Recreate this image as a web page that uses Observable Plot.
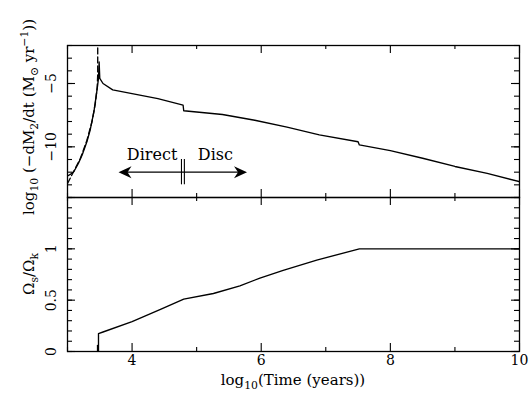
<!DOCTYPE html>
<html><head><meta charset="utf-8">
<script src="https://cdn.jsdelivr.net/npm/d3@7"></script>
<script src="https://cdn.jsdelivr.net/npm/@observablehq/plot@0.6"></script>
<style>
body{margin:0;background:#fff;}
#chart{position:relative;width:532px;height:414px;overflow:hidden;background:#fff;}
#chart svg{position:absolute;left:0;overflow:visible;}
</style></head><body><div id="chart"></div>
<script>
// ---- data ----
// top panel: log10(-dM2/dt) vs log10(time)
const timeSolid = [3.00, 3.05, 3.10, 3.17, 3.23, 3.30, 3.35, 3.41, 3.46, 3.48, 3.49, 3.50, 3.55, 3.70, 4.00, 4.40, 4.79, 4.80, 5.00, 5.40, 5.90, 6.40, 6.90, 7.50, 7.52, 8.00, 8.50, 9.00, 9.50, 10.00];
const mdotSolid = [-12.3, -12.15, -11.95, -11.3, -10.6, -9.6, -8.7, -7.2, -5.4, -4.6, -3.3, -4.6, -5.0, -5.5, -5.8, -6.2, -6.7, -7.15, -7.25, -7.45, -7.9, -8.45, -9.05, -9.6, -9.85, -10.3, -10.9, -11.55, -12.1, -12.75];
const timeDashed = [3.00, 3.05, 3.10, 3.20, 3.30, 3.38, 3.43, 3.46, 3.468, 3.468];
const mdotDashed = [-12.9, -12.4, -11.9, -10.9, -9.5, -8.0, -6.6, -5.3, -4.3, -2.0];
// bottom panel: Omega_s / Omega_k
const timeSpin = [3.48, 3.48, 3.55, 4.00, 4.44, 4.80, 5.26, 5.67, 5.98, 6.34, 6.86, 7.52, 10.00];
const spinSolid = [0, 0.175, 0.19, 0.29, 0.41, 0.51, 0.565, 0.64, 0.715, 0.79, 0.89, 1.0, 1.0];
const timeSpinDashed = [3.468, 3.468];
const spinDashed = [0, 0.07];
// annotation
const regimeLabels = ["Direct", "Disc"];
const regimeLabelX = [4.31, 5.29];
const regimeLabelY = [-10.65, -10.65];
const arrowTipX = [3.79, 5.78];
const arrowRotate = [-90, 90];
const arrowY = -12.0;
const dividerX = [4.765, 4.81];
const dividerY = [-11.0, -13.0];
// ticks
const xMajor = [4, 6, 8, 10];
const xMinor = [3, 5, 7, 9];
const yTopMajor = [-5, -10];
const yTopMinor = d3.range(-14, -1, 1);
const yBotMajor = [0, 0.5, 1, 1.5];
const yBotLabels = [0, 0.5, 1];
const yBotMinor = d3.range(0, 16).map(i => i / 10);

const FONT = "DejaVu Serif";
const W = 532, ML = 67, MR = 13;
const FW = W - ML - MR;
const topFrameH = 152, botFrameH = 154;
const ink = "black";
const LW = 1.35;
const fmt = d => String(d).replace("-", "\u2212");

function inwardX(values, len, frameH) {
  return [
    Plot.tickX(values, {x: d => d, insetTop: frameH - len, stroke: ink, strokeWidth: 1.1}),
    Plot.tickX(values, {x: d => d, insetBottom: frameH - len, stroke: ink, strokeWidth: 1.1})
  ];
}
function inwardY(values, len) {
  return [
    Plot.tickY(values, {y: d => d, insetRight: FW - len, stroke: ink, strokeWidth: 1.1}),
    Plot.tickY(values, {y: d => d, insetLeft: FW - len, stroke: ink, strokeWidth: 1.1})
  ];
}
const arrowHead = {
  draw(ctx) {
    ctx.moveTo(0, 0);
    ctx.lineTo(-6, 13);
    ctx.lineTo(0, 9);
    ctx.lineTo(6, 13);
    ctx.closePath();
  }
};

const topPlot = Plot.plot({
  width: W, height: 197, marginTop: 45, marginBottom: 0, marginLeft: ML, marginRight: MR,
  style: {fontFamily: FONT, fontSize: "14px", overflow: "visible", background: "transparent", color: ink},
  x: {domain: [3, 10], axis: null},
  y: {domain: [-14, -2]},
  marks: [
    ...inwardX(xMajor, 8, topFrameH),
    ...inwardX(xMinor, 4, topFrameH),
    ...inwardY(yTopMajor, 8),
    ...inwardY(yTopMinor, 5),
    Plot.axisY(yTopMajor, {tickSize: 0, tickPadding: 12, tickRotate: -90, tickFormat: fmt, label: null, fontSize: 14, fill: ink}),
    Plot.line(timeDashed, {x: d => d, y: (d, i) => mdotDashed[i], stroke: ink, strokeWidth: LW, strokeDasharray: "6,3", clip: true}),
    Plot.line(timeSolid, {x: d => d, y: (d, i) => mdotSolid[i], stroke: ink, strokeWidth: LW, clip: true}),
    Plot.ruleY([arrowY], {x1: arrowTipX[0] + 0.05, x2: arrowTipX[1] - 0.05, stroke: ink, strokeWidth: LW}),
    Plot.dot(arrowTipX, {x: d => d, y: () => arrowY, rotate: (d, i) => arrowRotate[i], symbol: arrowHead, fill: ink, stroke: null}),
    Plot.ruleX(dividerX, {y1: dividerY[0], y2: dividerY[1], stroke: ink, strokeWidth: 1.1}),
    Plot.text(regimeLabels, {x: regimeLabelX, y: regimeLabelY, text: d => d, fontSize: 16, fill: ink}),
    Plot.frame({stroke: ink, strokeWidth: 1.3})
  ]
});

const botPlot = Plot.plot({
  width: W, height: 217, marginTop: 0, marginBottom: 63, marginLeft: ML, marginRight: MR,
  style: {fontFamily: FONT, fontSize: "14px", overflow: "visible", background: "transparent", color: ink},
  x: {domain: [3, 10]},
  y: {domain: [0, 1.5]},
  marks: [
    ...inwardX(xMajor, 8, botFrameH),
    ...inwardX(xMinor, 4, botFrameH),
    ...inwardY(yBotMajor, 8),
    ...inwardY(yBotMinor, 5),
    Plot.axisY(yBotLabels, {tickSize: 0, tickPadding: 12, tickRotate: -90, tickFormat: fmt, label: null, fontSize: 14, fill: ink}),
    Plot.axisX(xMajor, {tickSize: 0, tickPadding: 4, tickFormat: fmt, label: null, fontSize: 14, fill: ink}),
    Plot.line(timeSpinDashed, {x: d => d, y: (d, i) => spinDashed[i], stroke: ink, strokeWidth: 1.7, strokeDasharray: "6,3", clip: true}),
    Plot.line(timeSpin, {x: d => d, y: (d, i) => spinSolid[i], stroke: ink, strokeWidth: LW, clip: true}),
    Plot.frame({stroke: ink, strokeWidth: 1.3})
  ]
});

const chart = document.getElementById("chart");
topPlot.style.top = "0px";
botPlot.style.top = "197px";
chart.appendChild(topPlot);
chart.appendChild(botPlot);

function addLabel(svg, x, y, rotate, parts, size) {
  const t = d3.select(svg).append("text")
    .attr("transform", `translate(${x},${y}) rotate(${rotate})`)
    .attr("text-anchor", "middle")
    .attr("font-family", FONT)
    .attr("font-size", size)
    .attr("fill", ink);
  let shift = 0;
  for (const [s, kind] of parts) {
    const target = kind === "sub" ? 4 : kind === "sup" ? -6 : 0;
    t.append("tspan").attr("dy", target - shift).attr("font-size", kind ? size * 0.72 : size).text(s);
    shift = target;
  }
}
addLabel(topPlot, 34, 117, -90, [
  ["log"], ["10", "sub"], [" (\u2212dM"], ["2", "sub"], ["/dt (M"], ["\u2299", "sub"], [" yr"], ["\u22121", "sup"], ["))"]
], 15);
addLabel(botPlot, 34, 77, -90, [
  ["\u03A9"], ["s", "sub"], ["/\u03A9"], ["k", "sub"]
], 15);
addLabel(botPlot, 293, 188, 0, [
  ["log"], ["10", "sub"], ["(Time (years))"]
], 15);
</script>
</body></html>
